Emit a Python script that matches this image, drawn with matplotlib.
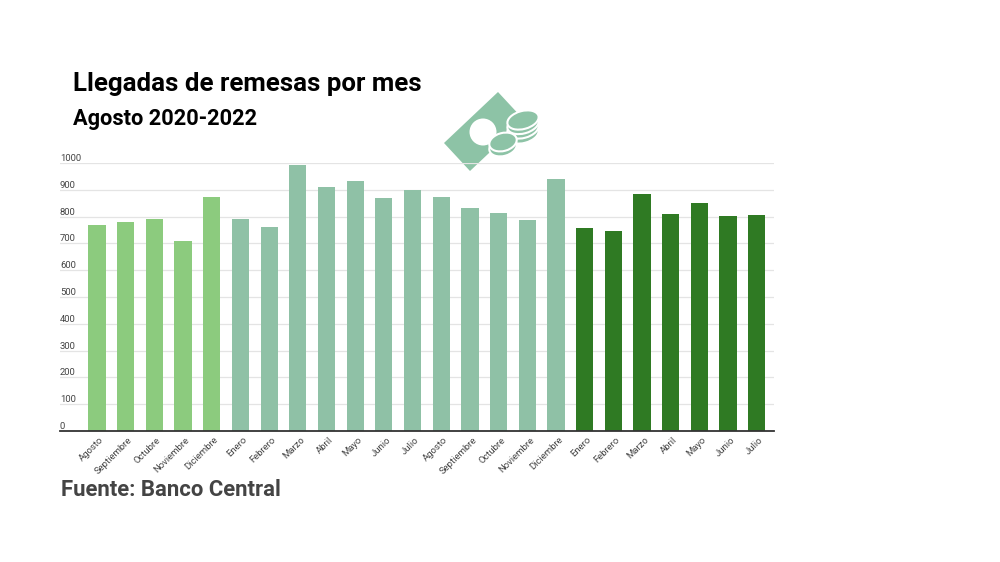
import numpy as np
from matplotlib import pyplot as plt
from matplotlib.patches import Polygon, Circle, Ellipse

plt.rcParams['font.family'] = ['Roboto', 'DejaVu Sans']

meses = ['Agosto','Septiembre','Octubre','Noviembre','Diciembre','Enero','Febrero','Marzo',
         'Abril','Mayo','Junio','Julio','Agosto','Septiembre','Octubre','Noviembre','Diciembre',
         'Enero','Febrero','Marzo','Abril','Mayo','Junio','Julio']
valores = [770,778,790,709,875,790,760,991,909,934,870,898,874,831,813,786,941,
           757,747,886,809,852,803,807]
# 5 barras de 2020, 12 de 2021, 7 de 2022
n_por_anio = [5, 12, 7]
colores_anio = ['#8ccb7e', '#8fc1a6', '#2f7a23']
yticks = list(range(0, 1001, 100))

colores = []
for n, c in zip(n_por_anio, colores_anio):
    colores += [c]*n

W, H = 1000, 562
fig = plt.figure(figsize=(10, 5.62), dpi=100)

# capa en pixeles para el icono
bg = fig.add_axes([0, 0, 1, 1])
bg.set_xlim(0, W); bg.set_ylim(H, 0); bg.axis('off')

ax = fig.add_axes([60/W, 1-431/H, 714/W, 268/H])
ax.patch.set_alpha(0)
x = np.arange(len(valores))
ax.bar(x, valores, width=0.6, color=colores, zorder=2)
ax.set_xlim(-1.29, 23.6)
ax.set_ylim(0, 1000)
ax.set_yticks(yticks)
ax.set_yticklabels([])
ax.grid(axis='y', color='#e4e4e4', lw=0.9, zorder=0)
ax.set_axisbelow(True)
ax.tick_params(length=0)
for s in ['top', 'right', 'left']:
    ax.spines[s].set_visible(False)
ax.spines['bottom'].set_color('#333333')
ax.spines['bottom'].set_linewidth(1.3)
ax.set_xticks(x)
# etiquetas corridas a mano, con rotation_mode anchor quedan a la izquierda
for xi, m in zip(x, meses):
    ax.annotate(m, (xi, 0), xycoords=('data', 'axes fraction'), xytext=(1.5, -3),
                textcoords='offset points', rotation=45, ha='right', va='top',
                rotation_mode='anchor', fontsize=6.8, color='#444444')
ax.set_xticklabels([])

for v in yticks:
    ax.annotate(str(v), (0, v), xycoords=('axes fraction', 'data'), xytext=(0, 0),
                textcoords='offset points', fontsize=6.8, color='#444444', va='bottom', ha='left')

# icono billete y monedas
verde = '#8dc3a6'
bg.add_patch(Polygon([(444,143),(498,92),(524,120),(470,171)], closed=True, color=verde, lw=0))
bg.add_patch(Circle((483,132), 13.5, color='white', lw=0))
for cy in [134,129,124.5,120]:
    bg.add_patch(Ellipse((523,cy), 32, 18, angle=-15, fc=verde, ec='white', lw=1.5))
for cy in [147,142]:
    bg.add_patch(Ellipse((503,cy), 28, 18, angle=-15, fc=verde, ec='white', lw=1.5))

fig.text(73/W, 1-84/H, 'Llegadas de remesas por mes', fontsize=18.6, fontweight='bold', color='black', va='center')
fig.text(73/W, 1-119/H, 'Agosto 2020-2022', fontsize=15.7, fontweight='bold', color='black', va='center')
fig.text(61/W, 1-490/H, 'Fuente: Banco Central', fontsize=15.9, fontweight='bold', color='#444444', va='center')

fig.savefig('out.png', dpi=100)
